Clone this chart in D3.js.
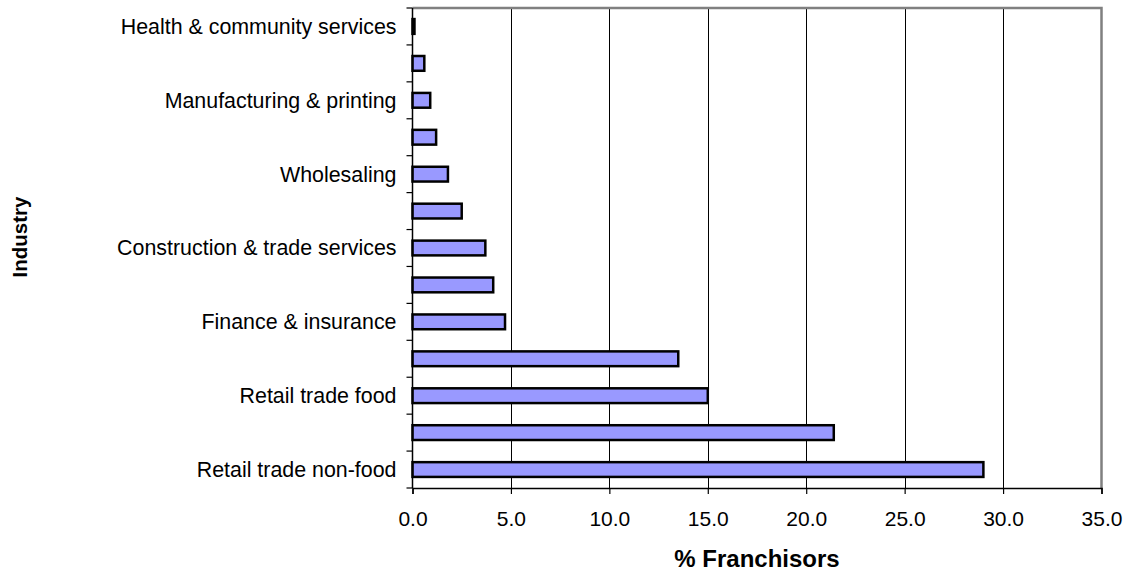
<!DOCTYPE html>
<html>
<head>
<meta charset="utf-8">
<script src="https://cdn.jsdelivr.net/npm/d3@7"></script>
<style>
  html, body { margin: 0; padding: 0; background: #fff; }
  svg { display: block; font-family: "Liberation Sans", Arial, sans-serif; }
</style>
</head>
<body>
<svg id="chart" width="1125" height="573"></svg>
<script>
// Industry categories, bottom to top (blank = label not shown on the axis)
const categories = [
  "Retail trade non-food",
  "",
  "Retail trade food",
  "",
  "Finance & insurance",
  "",
  "Construction & trade services",
  "",
  "Wholesaling",
  "",
  "Manufacturing & printing",
  "",
  "Health & community services"
];
// Share of franchisors in each industry (%)
const values = [29.0, 21.4, 15.0, 13.5, 4.7, 4.1, 3.7, 2.5, 1.8, 1.2, 0.9, 0.6, 0.1];
const xTicks = [0, 5, 10, 15, 20, 25, 30, 35];

const svg = d3.select("#chart");
const plot = { left: 412.5, right: 1101.5, top: 8, bottom: 488 };

const x = d3.scaleLinear().domain([0, 35]).range([plot.left, plot.right]);
const idx = d3.range(categories.length);
// index 0 sits at the bottom of the plot
const y = d3.scaleBand().domain(idx).range([plot.bottom, plot.top]).paddingInner(0.6).paddingOuter(0.3);
const yBand = d3.scaleBand().domain(idx).range([plot.bottom, plot.top]);

// vertical gridlines
svg.append("g")
  .selectAll("line")
  .data(xTicks.slice(1, -1))
  .join("line")
  .attr("x1", d => Math.round(x(d)) + 0.5)
  .attr("x2", d => Math.round(x(d)) + 0.5)
  .attr("y1", plot.top)
  .attr("y2", plot.bottom)
  .attr("stroke", "#000")
  .attr("stroke-width", 1);

// top and right frame
svg.append("path")
  .attr("d", `M${plot.left},${plot.top} H${plot.right} V${plot.bottom}`)
  .attr("fill", "none")
  .attr("stroke", "#808080")
  .attr("stroke-width", 2.5);

// bars
svg.append("g")
  .selectAll("rect")
  .data(idx)
  .join("rect")
  .attr("x", x(0))
  .attr("y", i => y(i))
  .attr("width", i => x(values[i]) - x(0))
  .attr("height", y.bandwidth())
  .attr("fill", "#9999ff")
  .attr("stroke", "#000")
  .attr("stroke-width", 2.5);

// x axis
const xAxis = d3.axisBottom(x)
  .tickValues(xTicks)
  .tickFormat(d3.format(".1f"))
  .tickSize(6)
  .tickPadding(17);
const gx = svg.append("g")
  .attr("transform", `translate(0,${plot.bottom})`)
  .call(xAxis)
  .attr("font-size", 21)
  .attr("font-family", "'Liberation Sans', Arial, sans-serif");
gx.select(".domain").attr("stroke", "#000").attr("stroke-width", 1.5);
gx.selectAll(".tick line").attr("stroke", "#000").attr("stroke-width", 1.2);
gx.selectAll(".tick text").attr("fill", "#000");

// y axis: ticks on category boundaries, labels at band centres
const gy = svg.append("g");
gy.append("line")
  .attr("x1", plot.left).attr("x2", plot.left)
  .attr("y1", plot.top).attr("y2", plot.bottom)
  .attr("stroke", "#000").attr("stroke-width", 1.5);
const boundaries = idx.map(i => yBand(i)).concat([plot.bottom]);
gy.selectAll("line.tick")
  .data(boundaries)
  .join("line")
  .attr("class", "tick")
  .attr("x1", plot.left - 6)
  .attr("x2", plot.left)
  .attr("y1", d => d)
  .attr("y2", d => d)
  .attr("stroke", "#000")
  .attr("stroke-width", 1.2);
gy.selectAll("text")
  .data(idx.filter(i => categories[i] !== ""))
  .join("text")
  .attr("x", plot.left - 16)
  .attr("y", i => yBand(i) + yBand.bandwidth() / 2)
  .attr("dy", "0.35em")
  .attr("text-anchor", "end")
  .attr("font-size", 21.4)
  .attr("fill", "#000")
  .text(i => categories[i]);

// axis titles
svg.append("text")
  .attr("x", 757)
  .attr("y", 567)
  .attr("text-anchor", "middle")
  .attr("font-size", 24)
  .attr("font-weight", "bold")
  .text("% Franchisors");

svg.append("text")
  .attr("transform", `translate(27,237) rotate(-90)`)
  .attr("text-anchor", "middle")
  .attr("font-size", 20.5)
  .attr("font-weight", "bold")
  .text("Industry");
</script>
</body>
</html>
